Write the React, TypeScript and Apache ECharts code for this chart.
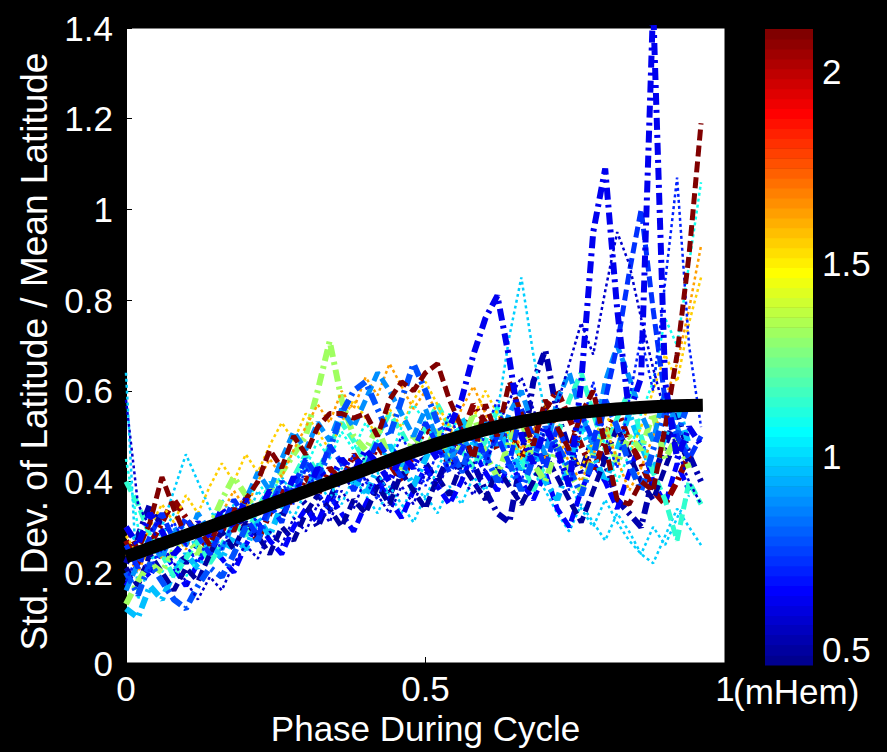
import React, { useEffect, useRef } from "react";
import * as echarts from "echarts";

// Phase grid shared by all cycle curves
const XS = [
  0, 0.02, 0.04, 0.06, 0.08, 0.1, 0.12, 0.14, 0.16, 0.18,
  0.2, 0.22, 0.24, 0.26, 0.28, 0.3, 0.32, 0.34, 0.36, 0.38,
  0.4, 0.42, 0.44, 0.46, 0.48, 0.5, 0.52, 0.54, 0.56, 0.58,
  0.6, 0.62, 0.64, 0.66, 0.68, 0.7, 0.72, 0.74, 0.76, 0.78,
  0.8, 0.82, 0.84, 0.86, 0.88, 0.9, 0.92, 0.94, 0.96,
];

// Individual cycles (std / mean latitude)
const navyDashDot = [0.22,0.28,0.35,0.30,0.26,0.22,0.27,0.24,0.30,0.34, 0.29,0.33,0.37,0.32,0.38,0.35,0.30,0.36,0.42,0.39, 0.45,0.41,0.37,0.43,0.48,0.44,0.40,0.46,0.52,0.44, 0.38,0.33,0.31,0.45,0.62,0.69,0.55,0.47,0.42,0.50, 0.44,0.36,0.33,0.30,0.41,0.48,0.55,0.46,0.40];
const blueSpikes = [0.30,0.26,0.33,0.29,0.24,0.27,0.31,0.28,0.34,0.30, 0.36,0.33,0.38,0.35,0.41,0.37,0.43,0.40,0.45,0.42, 0.47,0.44,0.40,0.46,0.43,0.49,0.45,0.52,0.58,0.68, 0.76,0.81,0.67,0.50,0.44,0.52,0.47,0.39,0.62,0.95, 1.09,0.78,0.55,0.63,1.45,0.62,0.45,0.52,0.48];
const blueDotted = [0.18,0.24,0.20,0.27,0.31,0.26,0.22,0.29,0.25,0.32, 0.37,0.30,0.34,0.40,0.35,0.43,0.38,0.33,0.41,0.46, 0.40,0.36,0.44,0.50,0.45,0.39,0.47,0.55,0.48,0.42, 0.51,0.58,0.47,0.40,0.49,0.56,0.45,0.38,0.52,0.62, 0.50,0.43,0.58,0.72,0.60,0.84,1.07,0.70,0.52];
const midBlueDashDot = [0.20,0.15,0.22,0.18,0.14,0.12,0.17,0.21,0.19,0.24, 0.30,0.27,0.34,0.40,0.36,0.44,0.40,0.47,0.55,0.60, 0.62,0.56,0.50,0.58,0.66,0.60,0.53,0.48,0.42,0.50, 0.46,0.40,0.44,0.38,0.45,0.52,0.48,0.43,0.37,0.45, 0.58,0.52,0.44,0.38,0.47,0.55,0.50,0.58];
const blueDashed = [0.26,0.21,0.28,0.33,0.27,0.32,0.28,0.24,0.30,0.36, 0.32,0.28,0.35,0.31,0.39,0.45,0.41,0.48,0.44,0.38, 0.43,0.49,0.45,0.41,0.47,0.53,0.48,0.42,0.47,0.52, 0.45,0.50,0.44,0.56,0.50,0.43,0.52,0.46,0.55,0.49, 0.58,0.70,0.86,1.00,0.78,0.58,0.50,0.45,0.50];
const azureDashed = [0.16,0.22,0.27,0.23,0.30,0.26,0.33,0.29,0.25,0.31, 0.36,0.42,0.38,0.45,0.51,0.47,0.53,0.49,0.56,0.52, 0.58,0.64,0.60,0.55,0.50,0.56,0.49,0.44,0.50,0.46, 0.53,0.48,0.55,0.60,0.52,0.46,0.58,0.64,0.55,0.48, 0.62,0.70,0.63,0.55,0.49,0.60,0.52,0.46];
const skyDotted = [0.64,0.14,0.22,0.30,0.38,0.46,0.40,0.34,0.29,0.35, 0.31,0.38,0.34,0.41,0.37,0.44,0.40,0.36,0.43,0.39, 0.46,0.42,0.37,0.33,0.40,0.36,0.43,0.48,0.42,0.50, 0.46,0.55,0.72,0.85,0.68,0.55,0.48,0.40,0.34,0.30, 0.36,0.31,0.27,0.24,0.22,0.28,0.34,0.30,0.26];
const cyanDotted = [0.45,0.30,0.25,0.20,0.24,0.19,0.23,0.28,0.33,0.29, 0.35,0.40,0.36,0.42,0.47,0.43,0.49,0.45,0.51,0.47, 0.53,0.49,0.45,0.52,0.57,0.53,0.48,0.55,0.50,0.45, 0.52,0.57,0.50,0.44,0.49,0.55,0.47,0.42,0.50,0.56, 0.48,0.40,0.46,0.55,0.62,0.76,0.70,0.88,1.06];
const aquaDashed = [0.40,0.35,0.28,0.24,0.19,0.23,0.27,0.22,0.26,0.31, 0.28,0.34,0.39,0.35,0.41,0.46,0.42,0.48,0.53,0.49, 0.44,0.50,0.55,0.51,0.46,0.52,0.57,0.52,0.47,0.43, 0.49,0.56,0.50,0.45,0.38,0.44,0.50,0.58,0.64,0.55, 0.47,0.54,0.60,0.50,0.42,0.36,0.27,0.40,0.35];
const greenDashDot = [0.13,0.18,0.22,0.20,0.25,0.28,0.24,0.30,0.36,0.41, 0.37,0.33,0.38,0.42,0.46,0.50,0.60,0.71,0.58,0.50, 0.47,0.52,0.45,0.42,0.50,0.47,0.52,0.44,0.48,0.55, 0.46,0.41,0.49,0.54,0.44,0.40,0.48,0.42,0.38,0.46, 0.52,0.44,0.50,0.47,0.55,0.45,0.50,0.43];
const orangeDotted = [0.24,0.20,0.26,0.23,0.29,0.25,0.31,0.27,0.33,0.38, 0.34,0.40,0.45,0.41,0.47,0.52,0.57,0.53,0.60,0.56, 0.63,0.59,0.66,0.61,0.56,0.60,0.55,0.50,0.56,0.61, 0.55,0.49,0.54,0.47,0.52,0.45,0.51,0.44,0.40,0.46, 0.52,0.45,0.38,0.43,0.50,0.58,0.66,0.78,0.92];
const maroonDashed = [0.30,0.25,0.31,0.41,0.34,0.28,0.30,0.26,0.33,0.29, 0.36,0.40,0.47,0.43,0.50,0.46,0.52,0.55,0.55,0.54, 0.55,0.50,0.58,0.62,0.60,0.64,0.66,0.58,0.52,0.45, 0.57,0.50,0.62,0.55,0.48,0.58,0.52,0.47,0.55,0.60, 0.48,0.36,0.35,0.40,0.38,0.52,0.68,0.90,1.19];
const navyDotted = [0.58,0.35,0.30,0.26,0.22,0.18,0.14,0.19,0.16,0.22, 0.26,0.23,0.29,0.26,0.32,0.29,0.35,0.31,0.38,0.34, 0.41,0.37,0.33,0.39,0.35,0.42,0.38,0.45,0.41,0.37, 0.43,0.52,0.58,0.63,0.56,0.49,0.57,0.66,0.75,0.68, 0.82,0.95,0.88,0.76,0.65,0.55,0.47,0.40,0.35];
const lightBlueDashDot = [0.12,0.10,0.17,0.14,0.20,0.24,0.21,0.27,0.23,0.28, 0.25,0.32,0.28,0.35,0.40,0.37,0.44,0.39,0.45,0.41, 0.37,0.43,0.48,0.44,0.39,0.45,0.51,0.46,0.54,0.49, 0.44,0.52,0.47,0.42,0.48,0.40,0.36,0.44,0.52,0.46, 0.40,0.47,0.55,0.48,0.42,0.50,0.57,0.48];
const pureBlueDashed = [0.17,0.22,0.19,0.25,0.21,0.17,0.22,0.26,0.23,0.20, 0.26,0.31,0.27,0.24,0.30,0.34,0.31,0.37,0.33,0.29, 0.35,0.40,0.36,0.32,0.38,0.43,0.39,0.35,0.40,0.47, 0.42,0.38,0.44,0.40,0.36,0.42,0.34,0.30,0.38,0.44, 0.40,0.34,0.42,0.49,0.40,0.35,0.44,0.38];
const paleBlueDotted = [0.30,0.26,0.22,0.28,0.33,0.29,0.25,0.30,0.36,0.32, 0.28,0.34,0.40,0.36,0.32,0.38,0.44,0.40,0.35,0.41, 0.37,0.33,0.39,0.35,0.31,0.37,0.33,0.39,0.35,0.41, 0.38,0.44,0.40,0.46,0.42,0.38,0.33,0.29,0.35,0.31, 0.27,0.33,0.29,0.24,0.30,0.26,0.32,0.37];
const darkRedDashDot = [0.27,0.22,0.26,0.31,0.36,0.32,0.28,0.25,0.29,0.34, 0.30,0.27,0.33,0.38,0.35,0.41,0.37,0.43,0.40,0.46, 0.42,0.48,0.44,0.40,0.46,0.52,0.48,0.44,0.50,0.57, 0.53,0.47,0.52,0.45,0.50,0.56,0.60,0.54,0.48,0.42, 0.50,0.56,0.49,0.44,0.38,0.35,0.40,0.46];
const navyDashed = [0.21,0.17,0.24,0.20,0.16,0.21,0.18,0.24,0.29,0.25, 0.31,0.28,0.24,0.30,0.27,0.33,0.37,0.34,0.30,0.36, 0.33,0.39,0.35,0.42,0.38,0.34,0.41,0.37,0.44,0.40, 0.36,0.43,0.39,0.35,0.40,0.46,0.41,0.36,0.31,0.38, 0.45,0.52,0.46,0.40,0.36,0.43,0.50,0.44];
const yellowDotted = [0.28,0.24,0.30,0.35,0.31,0.37,0.33,0.39,0.44,0.40, 0.46,0.42,0.48,0.53,0.49,0.55,0.51,0.47,0.53,0.58, 0.54,0.50,0.56,0.52,0.58,0.62,0.57,0.52,0.48,0.54, 0.60,0.55,0.50,0.45,0.51,0.57,0.52,0.47,0.43,0.49, 0.55,0.50,0.46,0.52,0.60,0.68,0.62,0.75,0.85];

// Cycle amplitude (mHem) of each curve, in the same order as CURVE_VALUES
const CURVE_VALUES = [navyDashDot, paleBlueDotted, skyDotted, pureBlueDashed, darkRedDashDot, lightBlueDashDot, aquaDashed, yellowDotted, cyanDotted, navyDashed, greenDashDot, orangeDotted, azureDashed, midBlueDashDot, blueDashed, navyDotted, blueDotted, maroonDashed, blueSpikes];
const CURVE_MHEM = [0.52, 0.98, 1.0, 0.66, 2.08, 0.95, 1.15, 1.55, 1.08, 0.5, 1.32, 1.64, 0.88, 0.78, 0.74, 0.58, 0.7, 2.1, 0.62];
const CURVE_STYLE = ["dashdot", "dotted", "dotted", "dashed", "dashdot", "dashdot", "dashed", "dotted", "dotted", "dashed", "dashdot", "dotted", "dashed", "dashdot", "dashed", "dotted", "dotted", "dashed", "dashdot"];

// Fitted trend
const FIT_X = [0, 0.08, 0.16, 0.24, 0.32, 0.4, 0.48, 0.56, 0.64, 0.72, 0.8, 0.88, 0.963];
const FIT_Y = [0.234, 0.272, 0.31, 0.349, 0.388, 0.427, 0.466, 0.5, 0.527, 0.546, 0.558, 0.565, 0.568];

// Colour scale
const CMIN = 0.4585;
const CMAX = 2.109;
const CBAR_TICKS = [0.5, 1, 1.5, 2];

const FONT = "'Liberation Sans', Arial, Helvetica, sans-serif";

function jetColor(i: number): string {
  const x = (i + 1) / 64;
  const c = (v: number) => Math.max(0, Math.min(1, v));
  const r = c(1.5 - Math.abs(4 * x - 3));
  const g = c(1.5 - Math.abs(4 * x - 2));
  const b = c(1.5 - Math.abs(4 * x - 1));
  return `rgb(${Math.round(r * 255)},${Math.round(g * 255)},${Math.round(b * 255)})`;
}
function colorIndex(v: number): number {
  return Math.max(0, Math.min(63, Math.floor(((v - CMIN) / (CMAX - CMIN)) * 64)));
}

const DASH: Record<string, number[]> = {
  dashdot: [12, 5, 3, 5],
  dashed: [11, 5],
  dotted: [3, 3],
};
const WIDTH: Record<string, number> = { dashdot: 6, dashed: 5, dotted: 2.5 };

export default function App() {
  const ref = useRef<HTMLDivElement>(null);
  useEffect(() => {
    document.body.style.margin = "0";
    document.body.style.background = "#000";
    if (!ref.current) return;
    const chart = echarts.init(ref.current, undefined, { renderer: "svg" });

    const lineSeries = CURVE_VALUES.map((ys, k) => ({
      type: "line",
      xAxisIndex: 0,
      yAxisIndex: 0,
      data: ys.map((y, i) => [XS[i], y]),
      showSymbol: false,
      symbol: "none",
      silent: true,
      clip: true,
      lineStyle: {
        color: jetColor(colorIndex(CURVE_MHEM[k])),
        width: WIDTH[CURVE_STYLE[k]],
        type: DASH[CURVE_STYLE[k]],
        cap: "butt",
      },
      z: 2,
    }));

    const cbarData: number[][] = [];
    for (let i = 0; i < 64; i++) {
      const lo = CMIN + (i * (CMAX - CMIN)) / 64;
      const hi = CMIN + ((i + 1) * (CMAX - CMIN)) / 64;
      cbarData.push([0.5, lo, hi, i]);
    }

    const tickStyle = { lineStyle: { color: "#000", width: 1 } };
    const labelStyle = { color: "#fff", fontSize: 35, fontFamily: FONT };

    chart.setOption({
      animation: false,
      backgroundColor: "#000",
      grid: [
        { left: 126, top: 28, width: 599, height: 635, show: true, backgroundColor: "#fff", borderColor: "#000", borderWidth: 1 },
        { left: 765, top: 29, width: 48, height: 636 },
      ],
      xAxis: [
        {
          gridIndex: 0, type: "value", min: 0, max: 1, interval: 0.5,
          axisLine: { show: true, lineStyle: { color: "#000" } },
          axisTick: { show: true, inside: true, length: 6, ...tickStyle },
          axisLabel: { ...labelStyle, margin: 8 },
          splitLine: { show: false },
          name: "Phase During Cycle", nameLocation: "middle", nameGap: 44,
          nameTextStyle: { ...labelStyle },
        },
        {
          gridIndex: 0, type: "value", min: 0, max: 1, interval: 0.5, position: "top",
          axisLine: { show: false }, axisTick: { show: true, inside: true, length: 6, ...tickStyle },
          axisLabel: { show: false }, splitLine: { show: false },
        },
        {
          gridIndex: 1, type: "value", min: 0, max: 1, show: false,
        },
      ],
      yAxis: [
        {
          gridIndex: 0, type: "value", min: 0, max: 1.4, interval: 0.2,
          axisLine: { show: true, lineStyle: { color: "#000" } },
          axisTick: { show: true, inside: true, length: 6, ...tickStyle },
          axisLabel: { ...labelStyle, margin: 13 },
          splitLine: { show: false },
          name: "Std. Dev. of Latitude / Mean Latitude", nameLocation: "middle", nameGap: 62,
          nameTextStyle: { ...labelStyle, fontSize: 37, padding: [0, 12, 0, 0] },
        },
        {
          gridIndex: 0, type: "value", min: 0, max: 1.4, interval: 0.2, position: "right",
          axisLine: { show: false }, axisTick: { show: true, inside: true, length: 6, ...tickStyle },
          axisLabel: { show: false }, splitLine: { show: false },
        },
        {
          gridIndex: 1, type: "value", min: CMIN, max: CMAX, position: "right",
          axisLine: { show: false },
          axisTick: { show: true, inside: true, length: 6, customValues: CBAR_TICKS, ...tickStyle },
          axisLabel: { ...labelStyle, margin: 9, customValues: CBAR_TICKS },
          splitLine: { show: false },
        },
        {
          gridIndex: 1, type: "value", min: CMIN, max: CMAX, position: "left",
          axisLine: { show: false },
          axisTick: { show: true, inside: true, length: 6, customValues: CBAR_TICKS, ...tickStyle },
          axisLabel: { show: false },
          splitLine: { show: false },
        },
      ],
      graphic: [
        {
          type: "text", left: 733, top: 674, silent: true,
          style: { text: "(mHem)", fill: "#fff", font: `35px ${FONT}` },
        },
      ],
      series: [
        ...lineSeries,
        {
          type: "line",
          xAxisIndex: 0,
          yAxisIndex: 0,
          data: FIT_X.map((x, i) => [x, FIT_Y[i]]),
          showSymbol: false,
          symbol: "none",
          smooth: 0.4,
          silent: true,
          lineStyle: { color: "#000", width: 13, cap: "butt" },
          z: 5,
        },
        {
          type: "custom",
          xAxisIndex: 2,
          yAxisIndex: 2,
          data: cbarData,
          encode: { x: 0, y: [1, 2] },
          silent: true,
          renderItem: (_p: any, api: any) => {
            const lo = api.value(1);
            const hi = api.value(2);
            const idx = api.value(3);
            const a = api.coord([0, lo]);
            const b = api.coord([1, hi]);
            return {
              type: "rect",
              shape: { x: a[0], y: b[1], width: b[0] - a[0], height: a[1] - b[1] + 0.6 },
              style: { fill: jetColor(idx) },
            };
          },
          z: 1,
        },
      ],
    });
    return () => chart.dispose();
  }, []);
  return <div ref={ref} style={{ width: 887, height: 752 }} />;
}
